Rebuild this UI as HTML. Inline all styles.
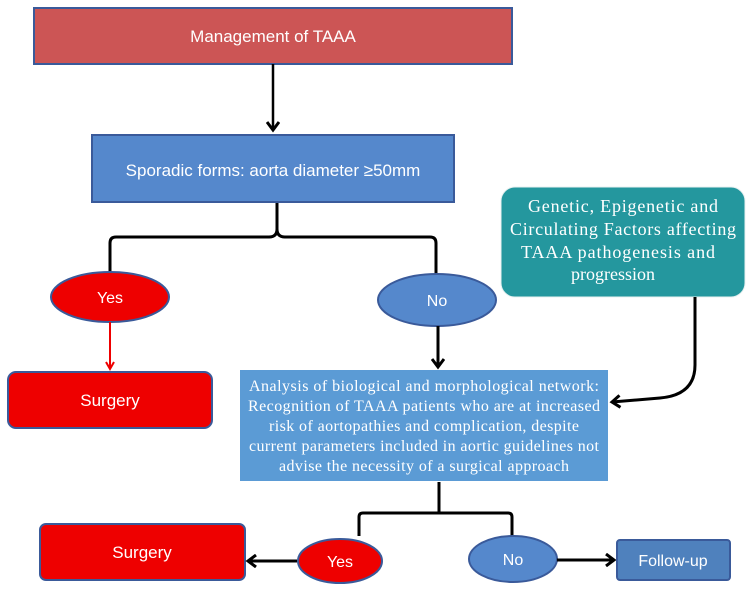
<!DOCTYPE html>
<html><head><meta charset="utf-8"><style>
body{margin:0;background:#fff}
svg text{font-family:"Liberation Sans",sans-serif;fill:#fff}
.s{font-family:"Liberation Serif",serif}
</style></head><body>
<svg width="754" height="594" viewBox="0 0 754 594" xmlns="http://www.w3.org/2000/svg">
<defs><marker id="a" markerWidth="12" markerHeight="14" refX="9" refY="7" orient="auto" markerUnits="userSpaceOnUse"><path d="M1,1 L9,7 L1,13" fill="none" stroke="#000" stroke-width="3"/></marker>
<marker id="r" markerWidth="10" markerHeight="10" refX="8" refY="5" orient="auto" markerUnits="userSpaceOnUse"><path d="M1,1 L8,5 L1,9" fill="none" stroke="#e00" stroke-width="2"/></marker></defs>
<rect x="34" y="8" width="478" height="56" fill="#cc5555" stroke="#3a5a9a" stroke-width="2"/>
<text x="273" y="42" text-anchor="middle" font-size="17">Management of TAAA</text>
<line x1="273" y1="64" x2="273" y2="130" stroke="#000" stroke-width="2.5" marker-end="url(#a)"/>
<rect x="92" y="135" width="362" height="67" fill="#5588cc" stroke="#3a5a9a" stroke-width="2"/>
<text x="273" y="176" text-anchor="middle" font-size="17">Sporadic forms: aorta diameter ≥50mm</text>
<path d="M277,203 V229 Q277,237 269,237 H116 Q110,237 110,243 V272 M277,229 Q277,237 285,237 H430 Q436,237 436,243 V274" fill="none" stroke="#000" stroke-width="3"/>
<ellipse cx="110" cy="297" rx="59" ry="25" fill="#ee0000" stroke="#3a5a9a" stroke-width="2"/>
<text x="110" y="303" text-anchor="middle" font-size="16">Yes</text>
<ellipse cx="437" cy="300" rx="59" ry="26" fill="#5588cc" stroke="#3a5a9a" stroke-width="2"/>
<text x="437" y="306" text-anchor="middle" font-size="16">No</text>
<rect x="501" y="187" width="244" height="110" rx="14" fill="#24979e" stroke="#e8f0f0" stroke-width="1"/>
<text class="s" x="623" y="212" text-anchor="middle" font-size="18" textLength="190">Genetic, Epigenetic and</text>
<text class="s" x="623" y="235" text-anchor="middle" font-size="18" textLength="226">Circulating Factors affecting</text>
<text class="s" x="618" y="258" text-anchor="middle" font-size="18" textLength="194">TAAA pathogenesis and</text>
<text class="s" x="613" y="280" text-anchor="middle" font-size="18">progression</text>
<line x1="110" y1="322" x2="110" y2="369" stroke="#e00" stroke-width="2" marker-end="url(#r)"/>
<rect x="8" y="372" width="204" height="56" rx="8" fill="#ee0000" stroke="#3a5a9a" stroke-width="2"/>
<text x="110" y="406" text-anchor="middle" font-size="17">Surgery</text>
<line x1="438" y1="326" x2="438" y2="367" stroke="#000" stroke-width="3" marker-end="url(#a)"/>
<path d="M695,297 V365 Q695,395 660,398 L612,402" fill="none" stroke="#000" stroke-width="3" marker-end="url(#a)"/>
<rect x="240" y="370" width="368" height="111" fill="#5b9bd5"/>
<text class="s" x="424" y="391" text-anchor="middle" font-size="16" textLength="350">Analysis of  biological and morphological network:</text>
<text class="s" x="424" y="411" text-anchor="middle" font-size="16" textLength="352">Recognition of TAAA patients who are at increased</text>
<text class="s" x="424" y="431" text-anchor="middle" font-size="16" textLength="310">risk of aortopathies and complication, despite</text>
<text class="s" x="424" y="451" text-anchor="middle" font-size="16" textLength="350">current parameters included in aortic guidelines not</text>
<text class="s" x="424" y="471" text-anchor="middle" font-size="16" textLength="290">advise the necessity of a surgical approach</text>
<path d="M439,482 V512 M359,536 V517 Q359,513 363,513 H508 Q512,513 512,517 V537" fill="none" stroke="#000" stroke-width="3"/>
<rect x="40" y="524" width="205" height="56" rx="6" fill="#ee0000" stroke="#3a5a9a" stroke-width="2"/>
<text x="142" y="558" text-anchor="middle" font-size="17">Surgery</text>
<ellipse cx="340" cy="561" rx="42" ry="22" fill="#ee0000" stroke="#3a5a9a" stroke-width="2"/>
<text x="340" y="567" text-anchor="middle" font-size="16">Yes</text>
<ellipse cx="513" cy="559" rx="44" ry="23" fill="#5588cc" stroke="#3a5a9a" stroke-width="2"/>
<text x="513" y="565" text-anchor="middle" font-size="16">No</text>
<line x1="297" y1="561" x2="248" y2="561" stroke="#000" stroke-width="3" marker-end="url(#a)"/>
<line x1="557" y1="560" x2="614" y2="560" stroke="#000" stroke-width="3" marker-end="url(#a)"/>
<rect x="617" y="540" width="113" height="40" rx="3" fill="#4f81bd" stroke="#3a5a9a" stroke-width="2"/>
<text x="673" y="566" text-anchor="middle" font-size="16">Follow-up</text>
</svg>
</body></html>
